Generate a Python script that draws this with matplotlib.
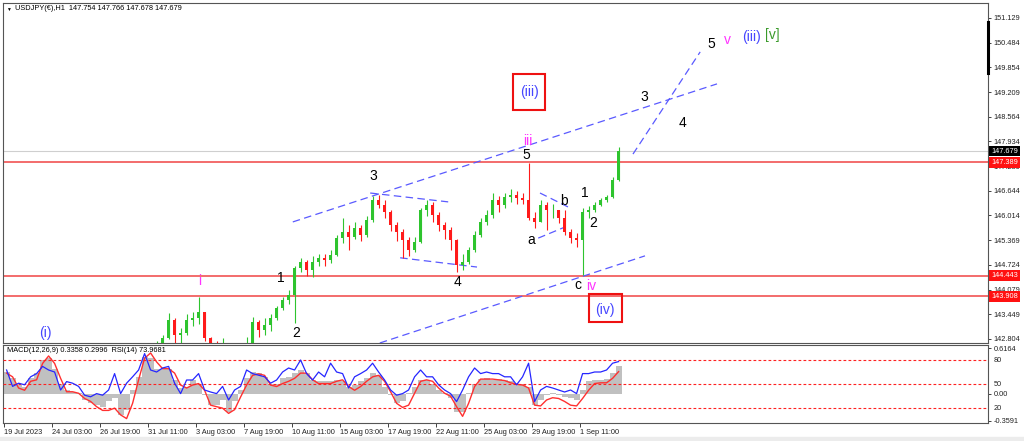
#!/usr/bin/env python3
# USDJPY H1 elliott-wave chart, MT4 look (price panel + MACD/RSI panel)
import matplotlib
matplotlib.use("Agg")
import matplotlib.pyplot as plt
import matplotlib.transforms as mtrans
from matplotlib.patches import Rectangle

plt.rcParams["font.family"] = ["Liberation Sans", "DejaVu Sans"]

# 8-hour candles, index k (0 = 19 Jul 2023)
closes = [
    139.9, 140.2, 140.6, 141.2, 141.6, 141.7, 141.5, 141.8, 141.6, 141.2,
    141.4, 141.0, 140.8, 140.9, 140.6, 140.3, 140.2, 140.0, 140.3, 139.8,
    139.6, 139.2, 140.1, 140.9, 141.8, 142.3, 142.83, 143.3, 142.9, 142.95,
    143.3, 143.35, 143.5, 142.83, 142.65, 142.6, 142.65, 142.3, 142.1, 142.3,
    142.7, 143.24, 143.04, 143.17, 143.35, 143.6, 143.82, 143.95, 144.64, 144.8,
    144.6, 144.8, 144.9, 144.85, 144.98, 145.42, 145.58, 145.45, 145.68, 145.5,
    145.89, 146.41, 146.28, 146.1, 145.76, 145.58, 145.37, 145.11, 145.32, 146.15,
    146.28, 146.02, 145.76, 145.63, 145.37, 144.72, 144.8, 145.11, 145.5, 145.84,
    146.02, 146.41, 146.28, 146.49, 146.54, 146.46, 146.41, 145.95, 145.84, 146.28,
    146.15, 146.15, 145.94, 145.58, 145.42, 145.37, 146.1, 146.15, 146.28, 146.41,
    146.49, 146.93, 147.68]
highs = [
    140.3, 140.5, 140.9, 141.4, 141.9, 142.0, 141.9, 142.1, 142.0, 141.7,
    141.6, 141.5, 141.1, 141.1, 141.0, 140.7, 140.5, 140.4, 140.5, 140.4,
    139.9, 139.8, 140.3, 141.1, 142.0, 142.75, 142.9, 143.48, 143.35, 143.1,
    143.45, 143.5, 143.9, 143.5, 142.85, 142.75, 142.83, 142.7, 142.4, 142.5,
    142.85, 143.37, 143.3, 143.35, 143.45, 143.65, 143.9, 144.08, 144.7, 144.9,
    144.85, 144.95, 145.0, 145.0, 145.1, 145.5, 145.94, 145.75, 145.85, 145.75,
    146.0, 146.5, 146.54, 146.4, 146.15, 145.85, 145.65, 145.45, 145.45, 146.2,
    146.41, 146.35, 146.1, 145.85, 145.7, 145.4, 145.0, 145.2, 145.6, 145.95,
    146.15, 146.59, 146.5, 146.6, 146.7, 146.65, 146.6, 147.37, 146.1, 146.4,
    146.35, 146.3, 146.15, 146.15, 145.65, 145.55, 146.2, 146.25, 146.35, 146.45,
    146.55, 147.0, 147.78]
lows = [
    139.6, 139.8, 140.1, 140.5, 141.1, 141.4, 141.2, 141.4, 141.3, 140.9,
    141.0, 140.8, 140.5, 140.5, 140.3, 140.0, 139.9, 139.7, 139.8, 139.5,
    139.2, 138.7, 139.1, 140.0, 140.8, 141.7, 142.2, 142.8, 142.7, 142.6,
    142.9, 143.15, 143.2, 142.75, 142.4, 142.3, 142.4, 142.1, 141.9, 142.0,
    142.2, 142.7, 142.85, 142.9, 143.0, 143.3, 143.55, 143.7, 143.22, 144.55,
    144.45, 144.42, 144.7, 144.7, 144.78, 144.95, 145.3, 145.12, 145.4, 145.35,
    145.45, 145.85, 146.2, 145.95, 145.6, 145.35, 144.9, 144.95, 145.05, 145.3,
    146.0, 145.85, 145.6, 145.4, 145.1, 144.54, 144.6, 144.75, 145.05, 145.45,
    145.75, 145.95, 146.1, 146.2, 146.35, 146.3, 146.3, 145.9, 145.68, 145.85,
    145.63, 145.95, 145.8, 145.5, 145.3, 145.2, 144.46, 145.95, 146.1, 146.25,
    146.35, 146.45, 146.9]

rsi = [
    67.5, 47, 51, 49, 59, 63, 72, 67.5, 65, 42.5,
    53, 51, 47, 36, 34, 38, 36, 42.5, 63, 38,
    51, 59, 67.5, 88, 67.5, 65, 70, 72, 51, 38,
    55, 55, 63, 42.5, 40, 38, 47, 30, 42.5, 47,
    67.5, 63, 61, 59, 51, 55, 65, 70, 67.5, 80,
    63, 55, 65, 59, 76, 65, 63, 45, 59, 63,
    67.5, 76, 65, 55, 42.5, 36, 38, 42.5, 59, 67.5,
    59, 59, 49, 42.5, 38, 28, 42.5, 59, 70, 63,
    65, 63, 63, 59, 59, 49, 59, 76, 28, 42.5,
    47, 45, 42.5, 40, 42.5, 38, 63, 63, 65, 65,
    67.5, 76, 78]
macd = [
    .30, .21, .12, .10, .21, .28, .46, .48, .34, .14,
    .05, .03, .01, -.08, -.125, -.15, -.17, -.10, -.06, -.28,
    -.21, .05, .23, .50, .48, .34, .34, .34, .19, .08,
    .10, .19, .14, -.01, -.15, -.15, -.08, -.24, -.10, .05,
    .21, .30, .28, .23, .14, .14, .21, .23, .28, .32,
    .28, .19, .17, .17, .17, .19, .17, .10, .12, .17,
    .21, .28, .25, .10, -.01, -.125, -.10, .01, .10, .19,
    .19, .14, .05, .01, -.06, -.24, -.24, .01, .14, .20,
    .21, .19, .20, .19, .18, .14, .14, .10, -.15, -.08,
    -.01, .01, -.01, -.04, -.06, -.08, .05, .17, .19, .19,
    .20, .28, .37]
signal = [
    .28, .23, .08, .05, .17, .19, .41, .51, .41, .21,
    .03, .03, .01, -.06, -.10, -.17, -.22, -.22, -.19, -.28,
    -.33, -.125, .19, .48, .55, .43, .34, .34, .28, .12,
    .08, .12, .14, .05, -.15, -.17, -.19, -.26, -.21, -.04,
    .12, .25, .27, .25, .12, .10, .14, .17, .21, .28,
    .28, .19, .14, .14, .14, .17, .19, .10, .05, .10,
    .17, .23, .25, .17, .03, -.125, -.18, -.15, .01, .17,
    .19, .17, .08, .01, -.03, -.17, -.30, -.125, .10, .20,
    .20, .20, .19, .18, .15, .13, .12, .08, -.15, -.16,
    -.08, -.05, -.06, -.10, -.15, -.16, -.06, .05, .14, .15,
    .15, .21, .30]

price_ticks = [151.129, 150.484, 149.854, 149.209, 148.564, 147.934, 147.289,
               146.644, 146.014, 145.369, 144.724, 144.079, 143.449, 142.804]
date_labels = ["19 Jul 2023", "24 Jul 03:00", "26 Jul 19:00", "31 Jul 11:00",
               "3 Aug 03:00", "7 Aug 19:00", "10 Aug 11:00", "15 Aug 03:00",
               "17 Aug 19:00", "22 Aug 11:00", "25 Aug 03:00", "29 Aug 19:00",
               "1 Sep 11:00"]
levels = [147.389, 144.443, 143.908]
bid = 147.679

BULL = "#2ec42e"
BEAR = "#ff1a1a"
WAVE_BLUE = "#4646ff"
MAGENTA = "#ff33ff"
LINE_BLUE = "#5a5aff"
FS = 5.3

W, H = 1024, 441


def fbox(l, t, r, b):
    return [l / W, 1 - b / H, (r - l) / W, (b - t) / H]


fig = plt.figure(figsize=(W / 100, H / 100), dpi=100)
fig.patch.set_facecolor("white")
fig.add_artist(Rectangle((0, 0), 1, 4 / H, transform=fig.transFigure,
                         color="#ececec", zorder=0))

ax = fig.add_axes(fbox(3, 3, 988, 343))
axi = fig.add_axes(fbox(3, 345, 988, 423))
axr = axi.twinx()
for a in (ax, axi):
    for s in a.spines.values():
        s.set_color("#555555")
        s.set_linewidth(0.8)
for s in axr.spines.values():
    s.set_visible(False)

ks = list(range(len(closes)))
opens = [139.7] + closes[:-1]
XMAX = 163.57

# ---- price panel
ax.set_xlim(-0.6, XMAX)
ax.set_ylim(142.70, 151.518)
for lv in levels:
    ax.axhline(lv, color="#f04444", lw=1.1, zorder=1)
ax.axhline(bid, color="#cfcfcf", lw=0.8, zorder=1)

cols = [BULL if c >= o else BEAR for o, c in zip(opens, closes)]
his = [max(h, o, c) for h, o, c in zip(highs, opens, closes)]
los = [min(l, o, c) for l, o, c in zip(lows, opens, closes)]
ax.vlines(ks, los, his, colors=cols, lw=0.8, zorder=3)
ax.bar(ks, [c - o for o, c in zip(opens, closes)], bottom=opens, width=0.45,
       color=cols, linewidth=0, zorder=3)

trend_lines = [((47.7, 145.84), (118.4, 149.42)),
               ((62.2, 142.70), (106.4, 144.96)),
               ((104.4, 147.60), (115.6, 150.25)),
               ((60.6, 146.59), (73.6, 146.36)),
               ((65.6, 144.91), (78.4, 144.67)),
               ((88.9, 146.59), (94.2, 146.18)),
               ((88.6, 145.42), (93.1, 145.71))]
for (x0, y0), (x1, y1) in trend_lines:
    ax.plot([x0, x1], [y0, y1], color=LINE_BLUE, lw=0.9,
            dashes=(6, 3.5), zorder=2)

labels = [(6.4, 142.96, "(i)", WAVE_BLUE),
          (32.1, 144.31, "i", MAGENTA),
          (45.7, 144.39, "1", "black"),
          (48.2, 142.96, "2", "black"),
          (61.1, 147.03, "3", "black"),
          (75.1, 144.28, "4", "black"),
          (86.7, 147.58, "5", "black"),
          (86.9, 147.93, "iii", MAGENTA),
          (87.1, 149.21, "(iii)", WAVE_BLUE),
          (87.4, 145.37, "a", "black"),
          (92.9, 146.38, "b", "black"),
          (96.4, 146.59, "1", "black"),
          (97.7, 145.81, "2", "black"),
          (95.2, 144.21, "c", "black"),
          (97.4, 144.18, "iv", MAGENTA),
          (99.7, 143.56, "(iv)", WAVE_BLUE),
          (106.2, 149.08, "3", "black"),
          (112.7, 148.41, "4", "black"),
          (117.4, 150.46, "5", "black"),
          (120.2, 150.56, "v", MAGENTA),
          (124.2, 150.63, "(iii)", WAVE_BLUE),
          (127.6, 150.69, "[v]", "#3a9a2a")]
for x, y, t, c in labels:
    ax.text(x, y, t, color=c, fontsize=10, ha="center", va="center", zorder=6)

for (x0, x1), (y0, y1) in [((84.4, 89.7), (148.74, 149.68)),
                           ((97.1, 102.6), (143.25, 143.97))]:
    ax.add_patch(Rectangle((x0, y0), x1 - x0, y1 - y0, fill=False,
                           ec="#ee1111", lw=1.5, zorder=6))

ax.tick_params(axis="x", bottom=False, labelbottom=False)
ax.yaxis.tick_right()
ax.set_yticks(price_ticks)
ax.set_yticklabels(["%.3f" % p for p in price_ticks])
ax.tick_params(axis="y", labelsize=FS, length=2.5, pad=1.5, width=0.6,
               colors="#222222")

tr = mtrans.blended_transform_factory(ax.transAxes, ax.transData)
ax.plot([1.0, 1.0], [149.70, 151.03], transform=tr, color="black", lw=2.2,
        clip_on=False, zorder=7)
for p, bg in [(bid, "black")] + [(lv, "#ff1111") for lv in levels]:
    ax.text(1.0 + 3 / 985, p, "%.3f" % p, transform=tr, color="white",
            fontsize=FS, ha="left", va="center", clip_on=False, zorder=8,
            bbox=dict(boxstyle="square,pad=0.25", fc=bg, ec="none"))

fig.text(6 / W, 1 - 9 / H, "\u25bc", fontsize=3.5, va="center")
fig.text(15 / W, 1 - 9 / H, "USDJPY(\u20ac),H1  147.754 147.766 147.678 147.679",
         fontsize=FS, va="center")

# ---- MACD / RSI panel
axi.set_xlim(-0.6, XMAX)
axi.set_ylim(-0.389, 0.657)
axi.bar(ks, macd, width=1.0, color="#c0c0c0", linewidth=0, zorder=1)
axi.plot(ks, signal, color="#ff3030", lw=1.0, zorder=2)
axi.yaxis.tick_right()
axi.set_yticks([0.6164, 0.0, -0.3591])
axi.set_yticklabels(["0.6164", "0.00", "-0.3591"])
axi.tick_params(axis="y", left=False, labelleft=False, right=True,
                labelright=True, labelsize=FS, length=2.5, pad=1.5,
                width=0.6, colors="#222222")

axr.set_ylim(1.25, 98.75)
for lv in (80, 50, 20):
    axr.axhline(lv, color="#ff2020", lw=0.8, dashes=(2.5, 2))
axr.plot(ks, rsi, color="#2626ff", lw=0.9)
axr.set_yticks([80, 50, 20])
axr.tick_params(axis="y", labelsize=FS, length=0, pad=4, colors="#222222")

tick_pos = [8 * j - 0.44 for j in range(len(date_labels))]
axi.set_xticks(tick_pos)
axi.set_xticklabels(date_labels, ha="left")
axi.tick_params(axis="x", labelsize=FS, length=3, pad=1.5, width=0.6,
                colors="#222222")

fig.text(7 / W, 1 - 351 / H, "MACD(12,26,9) 0.3358 0.2996  RSI(14) 73.9681",
         fontsize=FS, va="center")

fig.savefig("out.png", dpi=100)
